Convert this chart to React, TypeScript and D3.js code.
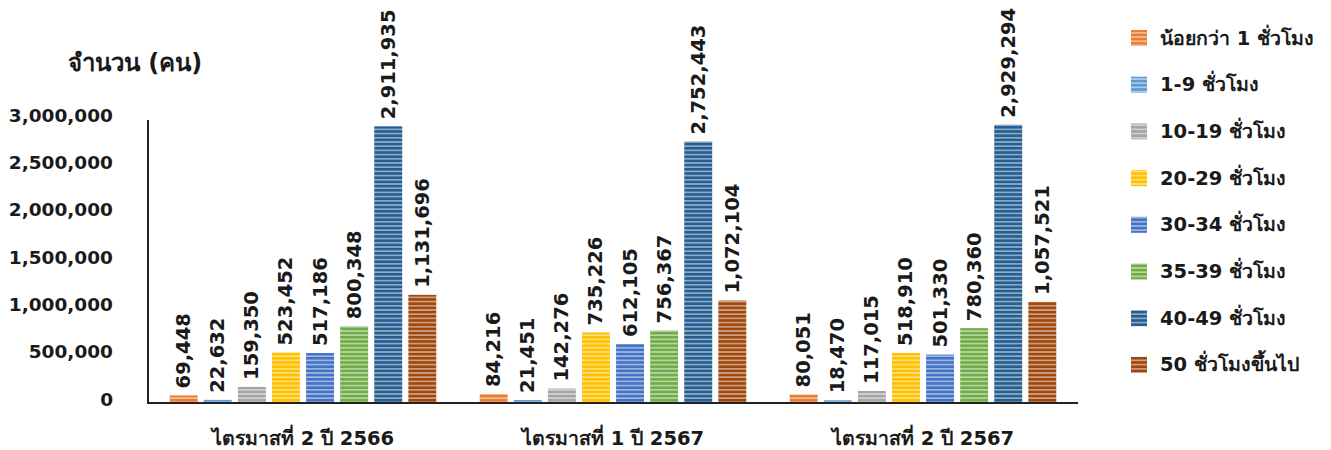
import React from "react";
import * as d3 from "d3";

const categories = ["ไตรมาสที่ 2 ปี 2566", "ไตรมาสที่ 1 ปี 2567", "ไตรมาสที่ 2 ปี 2567"];
const seriesNames = [
  "น้อยกว่า 1 ชั่วโมง",
  "1-9 ชั่วโมง",
  "10-19 ชั่วโมง",
  "20-29 ชั่วโมง",
  "30-34 ชั่วโมง",
  "35-39 ชั่วโมง",
  "40-49 ชั่วโมง",
  "50 ชั่วโมงขึ้นไป",
];
const seriesColors = ["#ED7D31", "#5B9BD5", "#A5A5A5", "#FFC000", "#4472C4", "#70AD47", "#255E91", "#9E480E"];
const q2_2566 = [69448, 22632, 159350, 523452, 517186, 800348, 2911935, 1131696];
const q1_2567 = [84216, 21451, 142276, 735226, 612105, 756367, 2752443, 1072104];
const q2_2567 = [80051, 18470, 117015, 518910, 501330, 780360, 2929294, 1057521];
const yTicks = [0, 500000, 1000000, 1500000, 2000000, 2500000, 3000000];
const yTitle = "จำนวน (คน)";

const W = 1331;
const H = 450;
const FONT = "'DejaVu Sans', 'Noto Sans', sans-serif";

export default function App() {
  const groups = [q2_2566, q1_2567, q2_2567];
  const x0 = d3.scaleBand<string>().domain(categories).range([148, 1078]).paddingInner(0.14).paddingOuter(0.07);
  const x1 = d3.scaleBand<number>().domain(d3.range(seriesNames.length)).range([0, x0.bandwidth()]).paddingInner(0.18);
  const y = d3.scaleLinear().domain([0, 3000000]).range([402, 118]);
  const fmt = d3.format(",");

  return (
    <svg width={W} height={H} style={{ position: "absolute", left: 0, top: 0, background: "#fff" }} fontFamily={FONT}>
      <defs>
        {seriesColors.map((c, i) => (
          <pattern key={i} id={`stripe${i}`} patternUnits="userSpaceOnUse" width={8} height={4.2}>
            <rect width={8} height={4.2} fill={c} />
            <rect y={2.6} width={8} height={1.6} fill="#fff" opacity={0.5} />
          </pattern>
        ))}
      </defs>

      {/* y title */}
      <text x={135} y={71} textAnchor="middle" fontSize={24} fontWeight="bold" fill="#1a1a1a">{yTitle}</text>

      {/* y tick labels */}
      {yTicks.map((t) => (
        <text key={t} x={113} y={y(t) - 3} textAnchor="end" dominantBaseline="central" fontSize={18.5} fontWeight="bold" fill="#1a1a1a">
          {fmt(t)}
        </text>
      ))}

      {/* bars */}
      {groups.map((vals, gi) => (
        <g key={gi} transform={`translate(${x0(categories[gi])},0)`}>
          {vals.map((v, si) => {
            const bx = x1(si)!;
            const bw = x1.bandwidth();
            const top = y(v);
            const cx = bx + bw / 2;
            return (
              <g key={si}>
                <rect x={bx} y={top} width={bw} height={y(0) - top} fill={`url(#stripe${si})`} />
                <text
                  transform={`translate(${cx},${top - 7}) rotate(-90)`}
                  dominantBaseline="central"
                  fontSize={19.5}
                  fontWeight="bold"
                  fill="#1a1a1a"
                >
                  {fmt(v)}
                </text>
              </g>
            );
          })}
        </g>
      ))}

      {/* axes */}
      <line x1={148} x2={148} y1={120} y2={403} stroke="#222" strokeWidth={2} />
      <line x1={147} x2={1078} y1={403} y2={403} stroke="#222" strokeWidth={2} />

      {/* category labels */}
      {categories.map((c) => (
        <text key={c} x={x0(c)! + x0.bandwidth() / 2} y={438} textAnchor="middle" dominantBaseline="central" fontSize={19.5} fontWeight="bold" fill="#1a1a1a">
          {c}
        </text>
      ))}

      {/* legend */}
      {seriesNames.map((n, i) => {
        const ly = 38 + i * 46.7;
        return (
          <g key={n}>
            <rect x={1131} y={ly - 8} width={16} height={16} fill={`url(#stripe${i})`} />
            <text x={1160} y={ly} dominantBaseline="central" fontSize={19.5} fontWeight="bold" fill="#1a1a1a">
              {n}
            </text>
          </g>
        );
      })}
    </svg>
  );
}
